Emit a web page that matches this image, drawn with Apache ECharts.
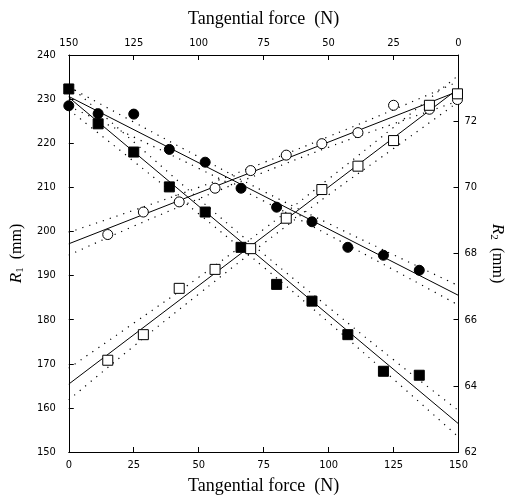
<!DOCTYPE html>
<html><head><meta charset="utf-8">
<script src="https://cdn.jsdelivr.net/npm/echarts@6/dist/echarts.min.js"></script>
<style>html,body{margin:0;padding:0;background:#fff}#c{width:514px;height:500px}</style>
</head><body><div id="c"></div>
<script>
// Data (tangential force in N, radius in mm on left axis scale)
const forceSolid = [0, 11.3, 25, 38.7, 52.5, 66.3, 80, 93.6, 107.4, 121.1, 134.9];
const filledSquares = [232.3, 224.4, 218.0, 210.1, 204.4, 196.4, 188.0, 184.2, 176.6, 168.3, 167.4];
const filledCircles = [228.5, 226.7, 226.6, 218.6, 215.7, 209.8, 205.5, 202.2, 196.4, 194.6, 191.2];
const forceOpen = [15, 28.7, 42.5, 56.3, 70, 83.7, 97.4, 111.3, 125, 138.8, 149.6];
const openCircles = [199.3, 204.4, 206.7, 209.8, 213.8, 217.3, 219.9, 222.4, 228.6, 227.7, 229.9];
const openSquares = [170.8, 176.6, 187.1, 191.4, 196.1, 203.0, 209.5, 214.8, 220.6, 228.6, 231.2];

// Regression line end points
const lineX = [0, 150];
const fitFilledSq = [230.4, 156.4];
const fitFilledCi = [230.6, 185.5];
const fitOpenCi = [197.2, 231.8];
const fitOpenSq = [165.4, 232.4];

// Confidence bands
const bandX = [0, 25, 50, 75, 100, 125, 150];
const bandFilledSqUp = [233.2, 220.3, 207.4, 194.9, 182.8, 170.9, 159.4];
const bandFilledSqLo = [227.6, 215.9, 204.0, 191.9, 179.4, 166.5, 153.4];
const bandFilledCiUp = [232.8, 224.8, 216.9, 209.1, 201.8, 194.7, 187.7];
const bandFilledCiLo = [228.4, 221.4, 214.3, 206.9, 199.2, 191.3, 183.3];
const bandOpenCiUp = [199.8, 204.8, 210.0, 215.6, 221.5, 227.6, 234.0];
const bandOpenCiLo = [194.6, 201.2, 207.4, 213.4, 219.1, 224.4, 229.6];
const bandOpenSqUp = [169.0, 179.2, 189.6, 200.5, 211.9, 223.6, 235.4];
const bandOpenSqLo = [161.8, 174.0, 185.8, 197.3, 208.3, 218.8, 229.4];

const zip = (xs, ys) => xs.map((x, i) => [x, ys[i]]);
const tickFont = {color: '#000', fontSize: 11, fontFamily: '"Liberation Sans Narrow","DejaVu Sans Condensed","Liberation Sans",sans-serif'};
const titleFont = {color: '#000', fontSize: 18, fontFamily: '"Liberation Serif","DejaVu Serif",serif'};
const axLine = {show: true, lineStyle: {color: '#000', width: 1}};
const axTick = {show: true, inside: true, length: 5, lineStyle: {color: '#000'}};

const fitLine = (ys) => ({type: 'line', data: zip(lineX, ys), symbol: 'none', silent: true,
  lineStyle: {color: '#000', width: 1}, z: 2});
const band = (ys) => ({type: 'line', data: zip(bandX, ys), symbol: 'none', smooth: true, silent: true,
  lineStyle: {color: '#000', width: 1.2, type: [1.2, 6]}, z: 1});
const pts = (xs, ys, sym, size, filled) => ({type: 'scatter', data: zip(xs, ys), symbol: sym, symbolSize: size,
  itemStyle: {color: filled ? '#000' : '#fff', borderColor: '#000', borderWidth: 1, opacity: 1}, z: 5});

const rich = {
  i: {fontStyle: 'italic', fontSize: 17, fontFamily: '"Liberation Serif",serif', color: '#000'},
  s: {fontSize: 11, fontFamily: '"Liberation Serif",serif', color: '#000', verticalAlign: 'bottom', padding: [8, 0, 0, 0]},
  t: {fontSize: 16, fontFamily: '"Liberation Serif",serif', color: '#000'}
};

const chart = echarts.init(document.getElementById('c'));
chart.setOption({
  animation: false,
  backgroundColor: '#fff',
  grid: {left: 63, right: 43, top: 55, bottom: 42},
  xAxis: [
    {type: 'value', min: 0, max: 150, interval: 25, position: 'bottom',
      name: 'Tangential force  (N)', nameLocation: 'middle', nameGap: 25, nameTextStyle: titleFont,
      axisLine: axLine, axisTick: axTick, splitLine: {show: false},
      axisLabel: Object.assign({margin: 8}, tickFont)},
    {type: 'value', min: 0, max: 150, interval: 25, position: 'top', inverse: true,
      name: 'Tangential force  (N)', nameLocation: 'middle', nameGap: 27, nameTextStyle: titleFont,
      axisLine: axLine, axisTick: axTick, splitLine: {show: false},
      axisLabel: Object.assign({margin: 6}, tickFont)}
  ],
  yAxis: [
    {type: 'value', min: 150, max: 240, interval: 10, position: 'left',
      name: '{i|R}{s|1}{t|  (mm)}', nameLocation: 'middle', nameGap: 32, nameRotate: 90,
      nameTextStyle: {rich: rich},
      axisLine: axLine, axisTick: axTick, splitLine: {show: false},
      axisLabel: Object.assign({margin: 13}, tickFont)},
    {type: 'value', min: 62, max: 74, interval: 2, position: 'right',
      name: '{i|R}{s|2}{t|  (mm)}', nameLocation: 'middle', nameGap: 28, nameRotate: -90,
      nameTextStyle: {rich: rich},
      axisLine: axLine, axisTick: axTick, splitLine: {show: false},
      axisLabel: Object.assign({margin: 6, formatter: v => (v >= 74 ? '' : String(v))}, tickFont)}
  ],
  series: [
    band(bandFilledSqUp), band(bandFilledSqLo),
    band(bandFilledCiUp), band(bandFilledCiLo),
    band(bandOpenCiUp), band(bandOpenCiLo),
    band(bandOpenSqUp), band(bandOpenSqLo),
    fitLine(fitFilledSq), fitLine(fitFilledCi), fitLine(fitOpenCi), fitLine(fitOpenSq),
    pts(forceSolid, filledSquares, 'rect', 10, true),
    pts(forceSolid, filledCircles, 'circle', 10, true),
    pts(forceOpen, openCircles, 'circle', 10, false),
    pts(forceOpen, openSquares, 'rect', 10, false)
  ]
});
</script></body></html>
